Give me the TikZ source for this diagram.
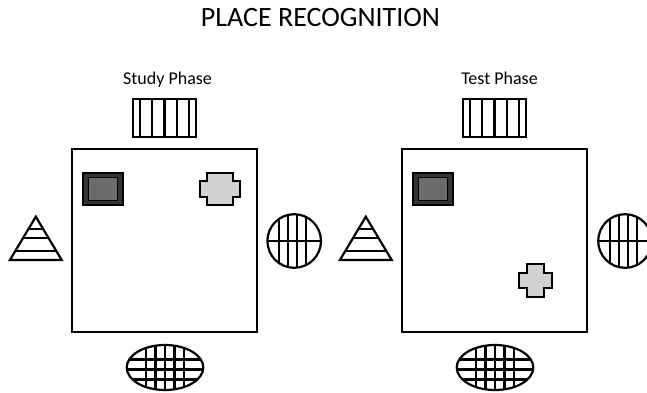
\documentclass[tikz,border=0pt]{standalone}
\usepackage{fontspec}
\setmainfont{Carlito}
\tikzset{
  room/.style={draw=black, line width=2pt},
  ink/.style={draw=black, line width=2.2pt},
  % striped box above each room
  pics/barcode/.style={code={
    \foreach \u in {-24.5,-12.25,0,12.25,24.5}
      \draw[ink] (\u,-19) -- (\u,19);
    \draw[ink, line width=2.6pt] (-31.5,-19) rectangle (31.5,19);
  }},
  % dark framed square
  pics/monitor/.style={code={
    \draw[line width=2pt, fill=black!80] (-19.7,-16.2) rectangle (19.7,16.2);
    \draw[line width=1.2pt, fill=black!58] (-14.8,-11.8) rectangle (14.8,11.8);
  }},
  % light grey cross: half width, half column, half height, half arm
  pics/plus/.style n args={4}{code={
    \draw[ink, fill=black!18]
      (-#2,-#3) -- (#2,-#3) -- (#2,-#4) -- (#1,-#4) -- (#1,#4) -- (#2,#4)
      -- (#2,#3) -- (-#2,#3) -- (-#2,#4) -- (-#1,#4) -- (-#1,-#4) -- (-#2,-#4) -- cycle;
  }},
  % striped triangle, origin at the middle of its base
  pics/pyramid/.style={code={
    \begin{scope}
      \clip (0,-43.3) -- (25.9,0) -- (-25.9,0) -- cycle;
      \foreach \v in {-30.7,-21.7,-9.3}
        \draw[ink] (-30,\v) -- (30,\v);
    \end{scope}
    \draw[ink, line join=miter] (0,-43.3) -- (25.9,0) -- (-25.9,0) -- cycle;
  }},
  % circle with grid lines
  pics/globe/.style={code={
    \begin{scope}
      \clip (0,0) circle [radius=26.8pt];
      \foreach \u in {-15,-6,3,12}
        \draw[ink] (\u,-30) -- (\u,30);
      \draw[ink] (-30,0) -- (30,0);
    \end{scope}
    \draw[ink] (0,0) circle [radius=26.8pt];
  }},
  % ellipse with grid lines
  pics/oval/.style={code={
    \begin{scope}
      \clip (0,0) ellipse [x radius=38.3pt, y radius=22.5pt];
      \foreach \u in {-19,-9.5,0,9.5,19}
        \draw[ink] (\u,-25) -- (\u,25);
      \foreach \v in {-8,2,12}
        \draw[ink] (-40,\v) -- (40,\v);
    \end{scope}
    \draw[ink] (0,0) ellipse [x radius=38.3pt, y radius=22.5pt];
  }},
}
\begin{document}
\begin{tikzpicture}[x=1pt, y=-1pt]
  \useasboundingbox (0,0) rectangle (647,392);

  % headings
  \node[anchor=base, font=\fontsize{28}{30}\selectfont, text=black] (title) at (320.5,26) {PLACE RECOGNITION};
  \node[anchor=base, font=\fontsize{18}{20}\selectfont, text=black] (study) at (167.5,84) {Study Phase};
  \node[anchor=base, font=\fontsize{18}{20}\selectfont, text=black] (test) at (499.5,84) {Test Phase};

  % study phase
  \draw[room] (72,149) rectangle (256.5,332);
  \pic at (164.5,118) {barcode};
  \pic at (103,189) {monitor};
  \pic at (220,189) {plus={20}{13}{16}{8}};
  \pic at (35.8,260) {pyramid};
  \pic at (294.2,241) {globe};
  \pic at (165,367.5) {oval};

  % test phase
  \draw[room] (402,149) rectangle (586.5,332);
  \pic at (494.5,118) {barcode};
  \pic at (433,189) {monitor};
  \pic at (535.5,280.5) {plus={16.5}{8.5}{16.5}{7.5}};
  \pic at (365.8,260) {pyramid};
  \pic at (625,241) {globe};
  \pic at (495,367.5) {oval};
\end{tikzpicture}
\end{document}
